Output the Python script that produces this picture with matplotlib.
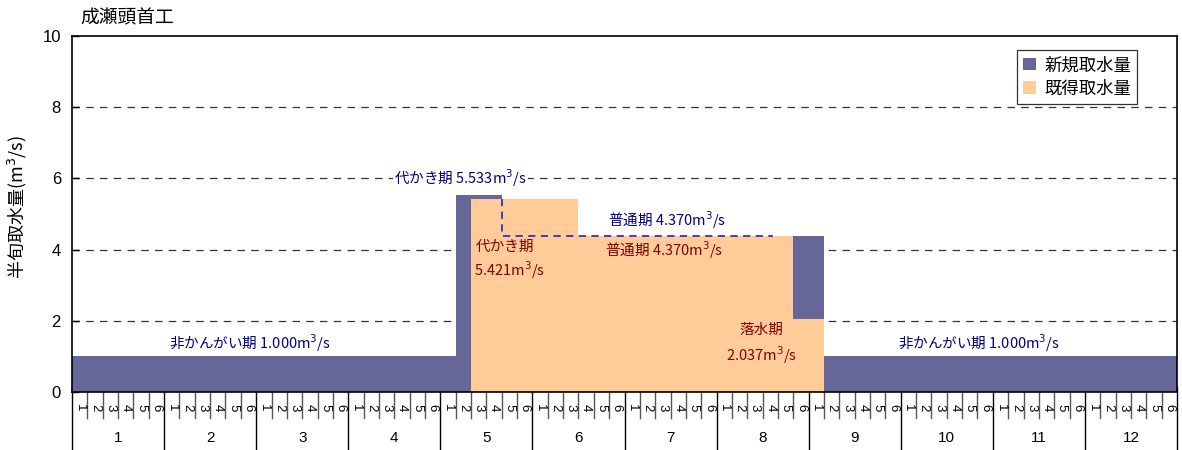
import matplotlib
matplotlib.use("Agg")
import matplotlib.pyplot as plt
import numpy as np

plt.rcParams['font.family'] = ['Noto Sans CJK JP', 'DejaVu Sans']

# --- data: 5-day intake (m3/s), six periods per month ---
months = [1, 2, 3, 4, 5, 6, 7, 8, 9, 10, 11, 12]
period_labels = ['1', '2', '3', '4', '5', '6']

new_intake = [
    [1.0, 1.0, 1.0, 1.0, 1.0, 1.0],            # Jan
    [1.0, 1.0, 1.0, 1.0, 1.0, 1.0],            # Feb
    [1.0, 1.0, 1.0, 1.0, 1.0, 1.0],            # Mar
    [1.0, 1.0, 1.0, 1.0, 1.0, 1.0],            # Apr
    [1.0, 5.533, 5.533, 5.533, 4.370, 4.370],  # May
    [4.370, 4.370, 4.370, 4.370, 4.370, 4.370],  # Jun
    [4.370, 4.370, 4.370, 4.370, 4.370, 4.370],  # Jul
    [4.370, 4.370, 4.370, 4.370, 4.370, 4.370],  # Aug
    [4.370, 1.0, 1.0, 1.0, 1.0, 1.0],          # Sep
    [1.0, 1.0, 1.0, 1.0, 1.0, 1.0],            # Oct
    [1.0, 1.0, 1.0, 1.0, 1.0, 1.0],            # Nov
    [1.0, 1.0, 1.0, 1.0, 1.0, 1.0],            # Dec
]

existing_intake = [
    [0, 0, 0, 0, 0, 0],
    [0, 0, 0, 0, 0, 0],
    [0, 0, 0, 0, 0, 0],
    [0, 0, 0, 0, 0, 0],
    [0, 0, 5.421, 5.421, 5.421, 5.421],
    [5.421, 5.421, 5.421, 4.370, 4.370, 4.370],
    [4.370, 4.370, 4.370, 4.370, 4.370, 4.370],
    [4.370, 4.370, 4.370, 4.370, 4.370, 2.037],
    [2.037, 0, 0, 0, 0, 0],
    [0, 0, 0, 0, 0, 0],
    [0, 0, 0, 0, 0, 0],
    [0, 0, 0, 0, 0, 0],
]

series_names = ['新規取水量', '既得取水量']
title = '成瀬頭首工'
ylabel = '半旬取水量(m$^3$/s)'

new_vals = np.array(new_intake).ravel()
old_vals = np.array(existing_intake).ravel()
n = len(new_vals)
edges = np.arange(n + 1)

c_new = '#666699'
c_old = '#FFCC99'
navy = '#000080'
maroon = '#800000'
num_font = ['Liberation Sans', 'DejaVu Sans']

fig = plt.figure(figsize=(11.82, 4.5), dpi=100)
ax = fig.add_axes([72 / 1182, 58 / 450, 1105 / 1182, 356 / 450])

ax.stairs(new_vals, edges, fill=True, color=c_new, linewidth=0, zorder=2,
          label=series_names[0])
ax.stairs(old_vals, edges, fill=True, color=c_old, linewidth=0, zorder=3,
          label=series_names[1])

# outline of the new-intake level where it is hidden by the existing intake
k = 28
ax.plot([k, k, 45.7], [old_vals[k], new_vals[k], new_vals[k]],
        color='#3030C0', linestyle=(0, (4, 3)), linewidth=1.3, zorder=4)

ax.set_xlim(0, n)
ax.set_ylim(0, 10)
ax.set_yticks([0, 2, 4, 6, 8, 10])
ax.set_yticklabels(['0', '2', '4', '6', '8', '10'], fontsize=12,
                   family=num_font)
ax.tick_params(axis='y', direction='in', length=5, width=1, pad=8)
for yv in [2, 4, 6, 8]:
    ax.axhline(yv, color='#333333', linestyle=(0, (6, 5)), linewidth=0.9,
               zorder=1)

ax.set_xticks(edges)
ax.set_xticklabels([])
ax.tick_params(axis='x', direction='in', length=4, width=1, color='#222222')

for s in ax.spines.values():
    s.set_color('black')
    s.set_linewidth(1.2)
    s.set_zorder(5)

# category table below the axis
trans = ax.get_xaxis_transform()
for i in range(n + 1):
    if i % 6 == 0:
        ax.plot([i, i], [0, -0.165], color='black', linewidth=1,
                transform=trans, clip_on=False)
    else:
        ax.plot([i, i], [0, -0.073], color='#555555', linewidth=1,
                transform=trans, clip_on=False)
for mi, m in enumerate(months):
    for pi, p in enumerate(period_labels):
        ax.text(mi * 6 + pi + 0.5, -0.045, p, transform=trans, rotation=-90,
                ha='center', va='center', fontsize=9.5, family=num_font)
    ax.text(mi * 6 + 3, -0.13, str(m), transform=trans, ha='center',
            va='center', fontsize=11, family=num_font)

# period annotations
fs = 10.5
ax.text(25.3, 6.0, '代かき期 5.533m$^3$/s', color=navy, ha='center',
        va='center', fontsize=fs,
        bbox=dict(facecolor='white', edgecolor='none', pad=1))
ax.text(38.8, 4.83, '普通期 4.370m$^3$/s', color=navy, ha='center',
        va='center', fontsize=fs)
ax.text(11.6, 1.38, '非かんがい期 1.000m$^3$/s', color=navy, ha='center',
        va='center', fontsize=fs)
ax.text(59.1, 1.38, '非かんがい期 1.000m$^3$/s', color=navy, ha='center',
        va='center', fontsize=fs)
ax.text(28.2, 4.07, '代かき期', color=maroon, ha='center', va='center',
        fontsize=fs, zorder=6)
ax.text(28.5, 3.43, '5.421m$^3$/s', color=maroon, ha='center', va='center',
        fontsize=fs, zorder=6)
ax.text(38.6, 3.99, '普通期 4.370m$^3$/s', color=maroon, ha='center',
        va='center', fontsize=fs, zorder=6)
ax.text(44.9, 1.74, '落水期', color=maroon, ha='center', va='center',
        fontsize=fs, zorder=6)
ax.text(44.9, 1.04, '2.037m$^3$/s', color=maroon, ha='center', va='center',
        fontsize=fs, zorder=6)

fig.text(80 / 1182, 1 - 18 / 450, title, ha='left', va='center', fontsize=13.5)
fig.text(17 / 1182, 1 - 207 / 450, ylabel, rotation=90, ha='center',
         va='center', fontsize=13)

leg = ax.legend(loc='upper right', bbox_to_anchor=(0.964, 0.96),
                fontsize=12.5, frameon=True, fancybox=False, handlelength=0.7,
                handleheight=0.7, handletextpad=0.5, borderpad=0.35,
                labelspacing=0.3, borderaxespad=0)
leg.get_frame().set_edgecolor('black')
leg.get_frame().set_linewidth(0.9)
leg.set_zorder(7)

fig.savefig('out.png', dpi=100)
